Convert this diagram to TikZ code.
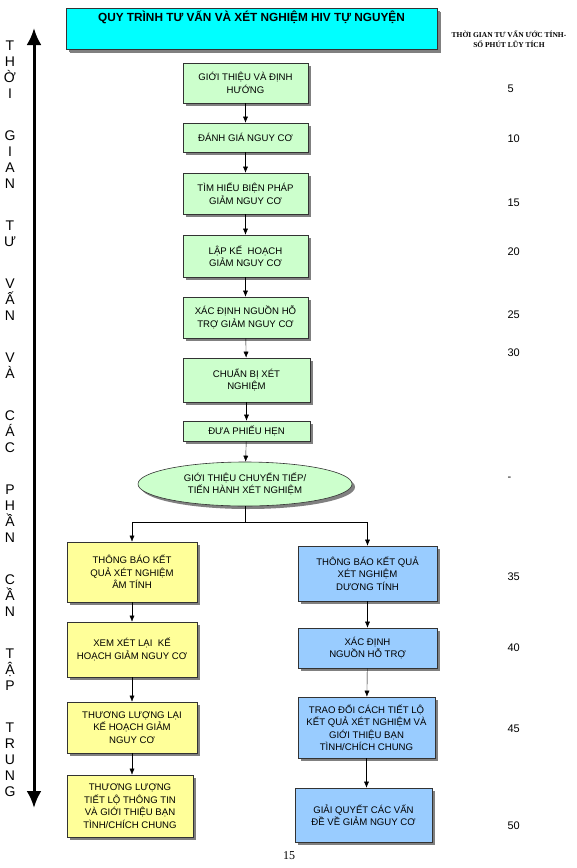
\documentclass[tikz,border=0pt]{standalone}
\usepackage{fontspec}
\setmainfont{Liberation Sans}
\newfontfamily\headserif{Liberation Serif}
\usetikzlibrary{arrows.meta,shapes.geometric,shadows}
\definecolor{titlecyan}{RGB}{0,255,255}
\definecolor{stepgreen}{RGB}{204,255,204}
\definecolor{negyellow}{RGB}{255,255,153}
\definecolor{posblue}{RGB}{153,204,255}

\begin{document}
\begin{tikzpicture}[x=1pt, y=-1pt,
    >={Latex[length=6pt,width=5pt]},
    box/.style={draw=black!80, line width=0.6pt, align=center, inner sep=2pt,
        font=\fontsize{9.6}{12.5}\selectfont,
        general shadow={fill=black!50, shadow xshift=3pt, shadow yshift=-3pt}},
    greenbox/.style={box, fill=stepgreen, minimum width=125pt},
    yellowbox/.style={box, fill=negyellow, minimum width=130pt},
    bluebox/.style={box, fill=posblue, minimum width=139pt},
    minutes/.style={anchor=west, font=\fontsize{11}{13}\selectfont},
    sideword/.style={anchor=north, align=center, inner sep=0pt, font=\fontsize{14}{16}\selectfont}]

    \useasboundingbox (0,0) rectangle (576,868);

    % title and time column heading
    \node[box, fill=titlecyan, minimum width=371pt, text height=9pt, text depth=24pt, inner sep=4pt,
        general shadow={fill=black!50, shadow xshift=4pt, shadow yshift=-4pt},
        font=\bfseries\fontsize{11.8}{14}\selectfont] (title) at (251.5,28.5)
        {QUY TRÌNH TƯ VẤN VÀ XÉT NGHIỆM HIV TỰ NGUYỆN};
    \node[align=center, font=\headserif\bfseries\fontsize{7.5}{10}\selectfont] (minhead) at (509,39.5)
        {THỜI GIAN TƯ VẤN ƯỚC TÍNH-\\SỐ PHÚT LŨY TÍCH};

    % time axis
    \coordinate (timetop) at (34,28);
    \coordinate (timebot) at (34,808);
    \draw[line width=3pt, {Latex[length=17pt,width=15pt]}-{Latex[length=17pt,width=15pt]}] (timetop) -- (timebot);
    \foreach \word/\ypos [count=\i] in {{T\\H\\Ờ\\I}/41, {G\\I\\A\\N}/131, {T\\Ư}/221, {V\\Ấ\\N}/279,
        {V\\À}/353, {C\\Á\\C}/411, {P\\H\\Ầ\\N}/485, {C\\Ầ\\N}/575, {T\\Ậ\\P}/649, {T\\R\\U\\N\\G}/723}
        \node[sideword] (w\i) at (10,\ypos) {\word};

    % common steps
    \node[greenbox, minimum height=40pt] (intro) at (245.5,83) {GIỚI THIỆU VÀ ĐỊNH\\HƯỚNG};
    \node[greenbox, minimum height=29pt] (risk) at (245.5,137.5) {ĐÁNH GIÁ NGUY CƠ};
    \node[greenbox, minimum height=41pt] (means) at (245.5,193.5) {TÌM HIỂU BIỆN PHÁP\\GIẢM NGUY CƠ};
    \node[greenbox, minimum height=42pt] (plan) at (245.5,256) {LẬP KẾ\ \ HOẠCH\\GIẢM NGUY CƠ};
    \node[greenbox, minimum height=41pt] (support) at (245.5,317.5) {XÁC ĐỊNH NGUỒN HỖ\\TRỢ GIẢM NGUY CƠ};
    \node[greenbox, minimum width=127pt, minimum height=44pt] (prep) at (246.5,380) {CHUẨN BỊ XÉT\\NGHIỆM};
    \node[greenbox, minimum width=127pt, minimum height=20pt] (ticket) at (246.5,431) {ĐƯA PHIẾU HẸN};
    \node[box, ellipse, fill=stepgreen, minimum width=214pt, minimum height=44pt, inner sep=0pt] (refer) at (245,484)
        {GIỚI THIỆU CHUYỂN TIẾP/\\TIẾN HÀNH XÉT NGHIỆM};

    % negative result
    \node[yellowbox, minimum height=60pt] (neg1) at (132,572) {THÔNG BÁO KẾT\\QUẢ XÉT NGHIỆM\\ÂM TÍNH};
    \node[yellowbox, minimum height=55pt] (neg2) at (132,649.5) {XEM XÉT LẠI\ \ KẾ\\HOẠCH GIẢM NGUY CƠ};
    \node[yellowbox, minimum height=51pt] (neg3) at (132,727.5) {THƯƠNG LƯỢNG LẠI\\KẾ HOẠCH GIẢM\\NGUY CƠ};
    \node[yellowbox, minimum width=126pt, minimum height=62pt] (neg4) at (130,806)
        {THƯƠNG LƯỢNG\\TIẾT LỘ THÔNG TIN\\VÀ GIỚI THIỆU BẠN\\TÌNH/CHÍCH CHUNG};

    % positive result
    \node[bluebox, minimum height=55pt] (pos1) at (367.5,573.5) {THÔNG BÁO KẾT QUẢ\\XÉT NGHIỆM\\DƯƠNG TÍNH};
    \node[bluebox, minimum height=40pt] (pos2) at (367.5,648) {XÁC ĐỊNH\\NGUỒN HỖ TRỢ};
    \node[bluebox, minimum width=137pt, minimum height=61pt] (pos3) at (366.5,727.5)
        {TRAO ĐỔI CÁCH TIẾT LỘ\\KẾT QUẢ XÉT NGHIỆM VÀ\\GIỚI THIỆU BẠN\\TÌNH/CHÍCH CHUNG};
    \node[bluebox, minimum width=137pt, minimum height=54pt] (pos4) at (363.5,815) {GIẢI QUYẾT CÁC VẤN\\ĐỀ VỀ GIẢM NGUY CƠ};

    % connectors
    \draw[->] (intro) -- (risk);
    \draw[->] (risk) -- (means);
    \draw[->] (means) -- (plan);
    \draw[->] (plan) -- (support);
    \draw[->] (support) -- (prep);
    \draw[->] (prep) -- (ticket);
    \draw[->] (ticket) -- (refer);
    \coordinate (split) at (245,522);
    \draw (refer) -- (split);
    \draw[->] (split) -| (neg1);
    \draw[->] (split) -| (pos1);
    \draw[->] (neg1) -- (neg2);
    \draw[->] (neg2) -- (neg3);
    \draw[->] (neg3) -- (neg3 |- neg4.north);
    \draw[->] (pos1) -- (pos2);
    \draw[->] (pos2) -- (pos3);
    \draw[->] (pos3) -- (pos3 |- pos4.north);

    % cumulative minutes
    \foreach \mins/\ypos [count=\i] in {5/89, 10/139, 15/203, 20/252, 25/315, 30/353, -/479, 35/577, 40/648, 45/729, 50/826}
        \node[minutes] (m\i) at (504,\ypos) {\mins};

    \node[font=\headserif\fontsize{12}{14}\selectfont] (pagenum) at (289,856) {15};
\end{tikzpicture}
\end{document}
